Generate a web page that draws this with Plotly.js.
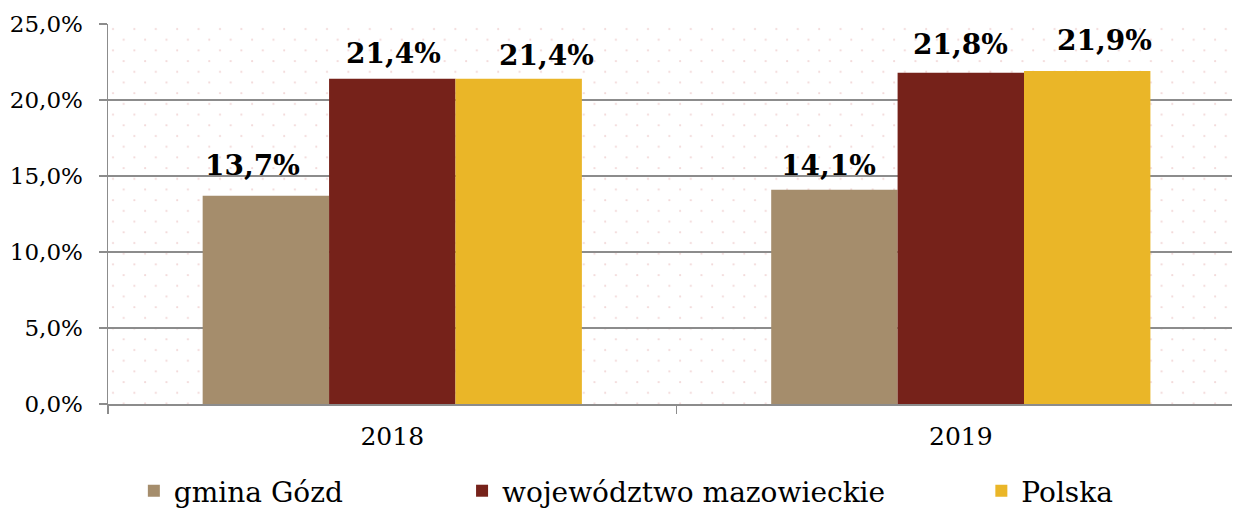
<!DOCTYPE html>
<html>
<head>
<meta charset="utf-8">
<script src="https://cdn.plot.ly/plotly-3.0.1.min.js"></script>
<style>html,body{margin:0;padding:0;background:#fff;}#chart{width:1234px;height:509px;}</style>
</head>
<body>
<div id="chart"></div>
<script>
const categories = ['2018', '2019'];
const seriesNames = ['gmina Gózd', 'województwo mazowieckie', 'Polska'];
const gminaGozd = [13.7, 14.1];
const wojMazowieckie = [21.4, 21.8];
const polska = [21.4, 21.9];
const yTickValues = [0, 5, 10, 15, 20, 25];
const yTickLabels = ['0,0%', '5,0%', '10,0%', '15,0%', '20,0%', '25,0%'];

const colors = ['#A58D6C', '#76221A', '#EAB628'];
const seriesValues = [gminaGozd, wojMazowieckie, polska];
const legendIds = ['legend', 'legend2', 'legend3'];
// small manual nudges of the value labels (px), as placed in the original
const labelNudgeX = [[-13, -6], [1, 0], [28, 17]];
const labelNudgeY = [[12, 6], [7, 10], [5, 12]];

const FONT = 'DejaVu Serif';
const fmt = v => v.toFixed(1).replace('.', ',') + '%';

const traces = seriesValues.map((vals, i) => ({
  type: 'bar',
  name: seriesNames[i],
  x: categories,
  y: vals,
  marker: {color: colors[i]},
  legend: legendIds[i],
  hoverinfo: 'skip'
}));

// value labels placed above each bar (offset within group = one bar width)
const BAR_PX = 126.4;
const annotations = [];
seriesValues.forEach((vals, i) => {
  vals.forEach((v, j) => {
    annotations.push({
      x: j, y: v, xref: 'x', yref: 'y',
      text: fmt(v), showarrow: false,
      xanchor: 'center', yanchor: 'bottom',
      xshift: (i - 1) * BAR_PX + labelNudgeX[i][j], yshift: labelNudgeY[i][j],
      font: {family: FONT, size: 28, color: '#000', weight: 'bold'}
    });
  });
});

const svg = "<svg xmlns='http://www.w3.org/2000/svg' width='1124' height='380'>" +
  "<defs><pattern id='p' width='21.4' height='21.4' patternUnits='userSpaceOnUse'>" +
  "<rect x='4' y='4.5' width='2' height='1' fill='#f0d2d2'/><rect x='4.5' y='4' width='1' height='2' fill='#f0d2d2'/>" +
  "<rect x='14.7' y='15.2' width='2' height='1' fill='#f0d2d2'/><rect x='15.2' y='14.7' width='1' height='2' fill='#f0d2d2'/>" +
  "</pattern></defs><rect width='1124' height='380' fill='url(#p)'/></svg>";
const bgSrc = 'data:image/svg+xml;charset=utf-8,' + encodeURIComponent(svg);

function legendAt(x) {
  return {
    orientation: 'h', yanchor: 'middle', y: -0.229, xanchor: 'left', x: x,
    font: {family: FONT, size: 28, color: '#000'},
    bgcolor: 'rgba(0,0,0,0)', itemclick: false, itemdoubleclick: false
  };
}

const layout = {
  width: 1234, height: 509,
  font: {family: FONT, color: '#000'},
  margin: {l: 108, r: 2, t: 24, b: 105, autoexpand: false},
  paper_bgcolor: '#fff',
  plot_bgcolor: 'rgba(0,0,0,0)',
  barmode: 'group',
  bargap: 0.333,
  bargroupgap: 0,
  showlegend: true,
  legend: legendAt(0.023),
  legend2: legendAt(0.315),
  legend3: legendAt(0.777),
  annotations: annotations,
  xaxis: {
    type: 'category',
    range: [-0.5, 1.477],
    showgrid: false,
    showline: true, linecolor: '#8c8c8c', linewidth: 1.5,
    ticks: 'outside', tickson: 'boundaries', ticklen: 8, tickcolor: '#8c8c8c', tickwidth: 1.5,
    ticklabelstandoff: 9,
    tickfont: {family: FONT, size: 25, color: '#000'},
    zeroline: false
  },
  yaxis: {
    range: [0, 25],
    tickmode: 'array',
    tickvals: yTickValues,
    ticktext: yTickLabels,
    showgrid: true, gridcolor: '#8c8c8c', gridwidth: 1.5,
    showline: true, linecolor: '#8c8c8c', linewidth: 1.5,
    ticks: 'outside', ticklen: 8, tickcolor: '#8c8c8c', tickwidth: 1.5,
    ticklabelstandoff: 11,
    tickfont: {family: FONT, size: 23, color: '#000'},
    zeroline: false
  },
  images: [{
    source: bgSrc, xref: 'paper', yref: 'paper', x: 0, y: 1, sizex: 1, sizey: 1,
    sizing: 'stretch', xanchor: 'left', yanchor: 'top', layer: 'below'
  }]
};

Plotly.newPlot('chart', traces, layout, {staticPlot: true, displayModeBar: false});
</script>
</body>
</html>
